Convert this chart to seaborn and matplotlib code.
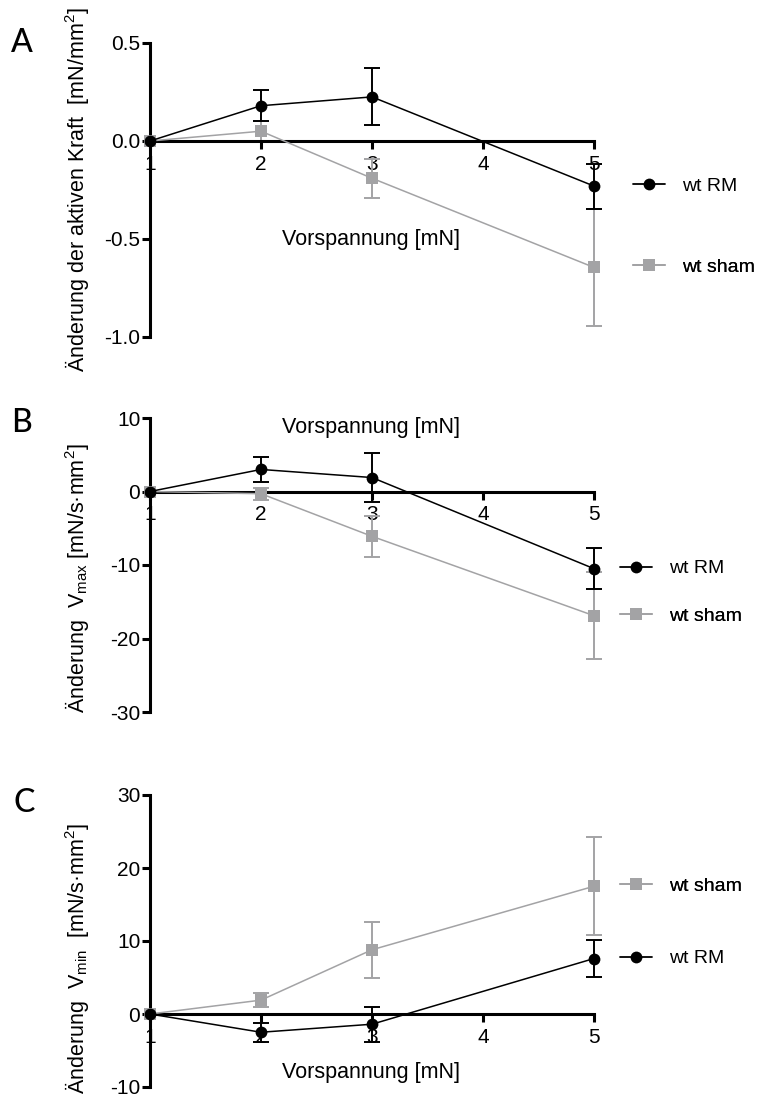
import numpy as np
import pandas as pd
import matplotlib
matplotlib.use("Agg")
import matplotlib.pyplot as plt
import matplotlib.lines as mlines
import seaborn as sns

# ---------------- data ----------------
x_vals = [1, 2, 3, 5]
x_ticks = [1, 2, 3, 4, 5]

A_rm = [0.0, 0.18, 0.225, -0.23]
A_rm_err = [0.0, 0.08, 0.145, 0.115]
A_sham = [0.0, 0.05, -0.19, -0.645]
A_sham_err = [0.0, 0.05, 0.10, 0.30]

B_rm = [0.0, 3.0, 1.9, -10.5]
B_rm_err = [0.0, 1.7, 3.3, 2.8]
B_sham = [0.0, -0.3, -6.1, -16.9]
B_sham_err = [0.0, 0.8, 2.8, 5.9]

C_rm = [0.0, -2.5, -1.4, 7.6]
C_rm_err = [0.0, 1.3, 2.4, 2.5]
C_sham = [0.0, 1.9, 8.8, 17.5]
C_sham_err = [0.0, 1.0, 3.8, 6.7]

A_yticks = [0.5, 0.0, -0.5, -1.0]
A_yticklabels = ["0.5", "0.0", "-0.5", "-1.0"]
B_yticks = [10, 0, -10, -20, -30]
C_yticks = [30, 20, 10, 0, -10]

series_labels = ["wt RM", "wt sham"]
panel_letters = ["A", "B", "C"]
xlabel = "Vorspannung [mN]"
ylabels = [
    "Änderung der aktiven Kraft  [mN/mm$^2$]",
    "Änderung  V$_{max}$ [mN/s·mm$^2$]",
    "Änderung  V$_{min}$  [mN/s·mm$^2$]",
]

# ---------------- style ----------------
sns.set_theme(style="ticks")
plt.rcParams["font.family"] = ["Liberation Sans", "DejaVu Sans"]
plt.rcParams["mathtext.fontset"] = "custom"
plt.rcParams["mathtext.rm"] = "Liberation Sans"
plt.rcParams["mathtext.it"] = "Liberation Sans:italic"
plt.rcParams["mathtext.bf"] = "Liberation Sans:bold"
plt.rcParams["mathtext.default"] = "regular"
plt.rcParams["axes.unicode_minus"] = False
plt.rcParams["text.color"] = "black"
plt.rcParams["axes.labelcolor"] = "black"
plt.rcParams["xtick.color"] = "black"
plt.rcParams["ytick.color"] = "black"

BLACK = "#000000"
GRAY = "#a3a3a5"

W, H = 757, 1097
fig = plt.figure(figsize=(W / 100, H / 100), dpi=100)


def px_axes(left, top, right, bottom):
    return fig.add_axes([left / W, 1 - bottom / H, (right - left) / W, (bottom - top) / H])


axA = px_axes(150, 43, 594, 337)
axB = px_axes(150, 418, 594, 712)
axC = px_axes(150, 795, 594, 1087)

MS = 8.5


def draw_series(ax, y, err, color, marker, msize, lw, z):
    df = pd.DataFrame({"x": x_vals, "y": y})
    sns.lineplot(data=df, x="x", y="y", ax=ax, color=color, marker=marker,
                 markersize=msize, markeredgewidth=0, linewidth=lw,
                 clip_on=False, zorder=z)
    e = np.array(err)
    m = e > 0
    eb = ax.errorbar(np.array(x_vals)[m], np.array(y)[m], yerr=e[m], fmt="none",
                     ecolor=color, elinewidth=lw + 0.3, capsize=5.5, capthick=lw + 0.3,
                     zorder=z - 0.5)
    for art in list(eb.lines[1]) + list(eb.lines[2]):
        art.set_clip_on(False)


def style_axes(ax, ylim, yticks, yticklabels=None):
    ax.set_xlim(1, 5)
    ax.set_ylim(*ylim)
    ax.set_xticks(x_ticks)
    ax.set_xticklabels([str(t) for t in x_ticks])
    ax.set_yticks(yticks)
    if yticklabels is not None:
        ax.set_yticklabels(yticklabels)
    else:
        ax.set_yticklabels([str(t) for t in yticks])
    sns.despine(ax=ax)
    ax.spines["bottom"].set_position(("data", 0))
    for s in ("left", "bottom"):
        ax.spines[s].set_linewidth(2.2)
        ax.spines[s].set_color("black")
    ax.tick_params(axis="both", direction="out", length=6, width=2.2,
                   labelsize=15, color="black", labelcolor="black", pad=1)
    ax.tick_params(axis="x", pad=4)
    ax.set_facecolor("none")


def add_end_legend(ax, label, y_end, color, marker, msize, anchor_x):
    h = mlines.Line2D([], [], color=color, marker=marker, markersize=msize,
                      markeredgewidth=0, linewidth=1.3)
    leg = ax.legend(handles=[h], labels=[label], loc="center left",
                    bbox_to_anchor=(anchor_x, y_end), bbox_transform=ax.transData,
                    frameon=False, fontsize=14, handlelength=1.65,
                    handletextpad=0.9, borderpad=0, borderaxespad=0)
    for t in leg.get_texts():
        t.set_color("black")
    ax.add_artist(leg)


panels = [
    (axA, A_rm, A_rm_err, A_sham, A_sham_err, (-1.0, 0.5), A_yticks, A_yticklabels,
     0.33, 0.5, 5.35),
    (axB, B_rm, B_rm_err, B_sham, B_sham_err, (-30, 10), B_yticks, None,
     0.966, 0.456, 5.23),
    (axC, C_rm, C_rm_err, C_sham, C_sham_err, (-10, 30), C_yticks, None,
     0.048, 0.44, 5.23),
]

for i, (ax, rm, rme, sh, she, ylim, yt, ytl, xl_y, yl_y, lx) in enumerate(panels):
    draw_series(ax, sh, she, GRAY, "s", MS, 1.1, 3)
    draw_series(ax, rm, rme, BLACK, "o", MS, 1.1, 5)
    style_axes(ax, ylim, yt, ytl)
    ax.set_xlabel(xlabel, fontsize=15.5)
    ax.xaxis.label.set_verticalalignment("center")
    ax.xaxis.set_label_coords(0.498, xl_y)
    ax.set_ylabel(ylabels[i], fontsize=15.5)
    ax.yaxis.label.set_verticalalignment("center")
    ax.yaxis.set_label_coords(-0.164, yl_y)
    add_end_legend(ax, series_labels[0], rm[-1], BLACK, "o", MS, lx)
    add_end_legend(ax, series_labels[1], sh[-1], GRAY, "s", MS, lx)

letter_pos = [(22, 43), (22, 423), (24, 803)]
for letter, (px, py) in zip(panel_letters, letter_pos):
    fig.text(px / W, 1 - py / H, letter, fontsize=23, ha="center", va="center",
             family=["Lato", "DejaVu Sans"], weight="medium", color="black")

fig.savefig("out.png", dpi=100)
